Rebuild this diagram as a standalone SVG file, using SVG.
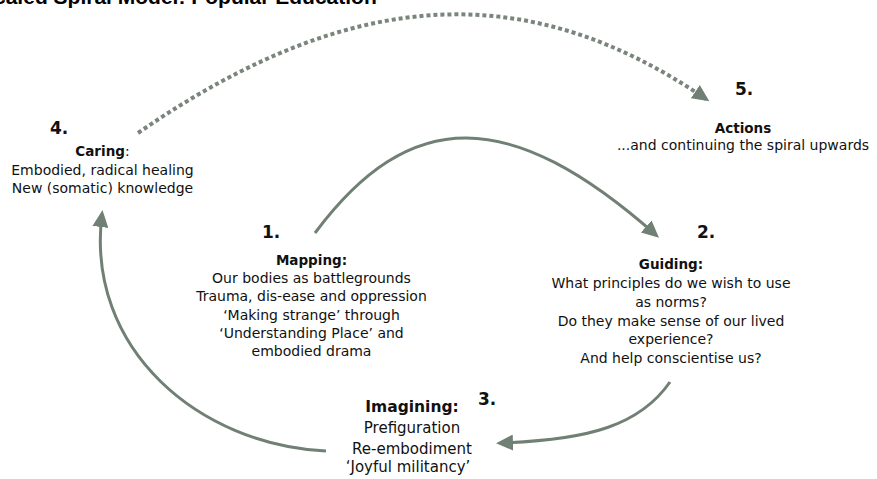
<svg xmlns="http://www.w3.org/2000/svg" width="877" height="479" viewBox="0 0 877 479">
<defs>
<style>
.t{font-family:"DejaVu Sans","Noto Sans",sans-serif;font-size:14px;fill:#111;text-anchor:middle}
.h{font-weight:bold;font-size:13.5px}
.n{font-family:"DejaVu Sans","Noto Sans",sans-serif;font-size:17px;font-weight:bold;fill:#111}
.c{fill:none;stroke:#718074;stroke-width:3}
.d{fill:none;stroke:#7a857c;stroke-width:4;stroke-dasharray:4 3}
.title{font-family:"Liberation Sans",Arial,sans-serif;font-size:21px;font-weight:bold;fill:#000}
</style>
<marker id="ah" markerUnits="userSpaceOnUse" markerWidth="18" markerHeight="16" refX="13" refY="8" orient="auto" viewBox="0 0 18 16">
<path d="M0,0 L17,8 L0,16 z" fill="#718074"/>
</marker>
</defs>
<rect width="877" height="479" fill="#fff"/>
<text class="title" x="-20" y="4">Scaled Spiral Model: Popular Education</text>
<g id="connectors">
<path class="d" d="M138,133 C358,-19 533,-19 706,99" marker-end="url(#ah)"/>
<path class="c" d="M315,233 C410,106 510,106 656,235" marker-end="url(#ah)"/>
<path class="c" d="M670,382 C640,425 590,440 500,443" marker-end="url(#ah)"/>
<path class="c" d="M326,451 C200,445 85,350 102,214" marker-end="url(#ah)"/>
</g>
<g id="node4">
<text class="n" x="50" y="134">4.</text>
<text class="t" x="102.5" y="156"><tspan class="h">Caring</tspan>:</text>
<text class="t" x="102.5" y="174.5">Embodied, radical healing</text>
<text class="t" x="102.5" y="192.5">New (somatic) knowledge</text>
</g>
<g id="node5">
<text class="n" x="735" y="95">5.</text>
<text class="t h" x="743" y="132.5">Actions</text>
<text class="t" x="743" y="150">...and continuing the spiral upwards</text>
</g>
<g id="node1">
<text class="n" x="262" y="238">1.</text>
<text class="t h" x="311.5" y="265">Mapping:</text>
<text class="t" x="311.5" y="283">Our bodies as battlegrounds</text>
<text class="t" x="311.5" y="301">Trauma, dis-ease and oppression</text>
<text class="t" x="311.5" y="319.5">‘Making strange’ through</text>
<text class="t" x="311.5" y="338">‘Understanding Place’ and</text>
<text class="t" x="311.5" y="356">embodied drama</text>
</g>
<g id="node2">
<text class="n" x="697" y="238">2.</text>
<text class="t h" x="671" y="269">Guiding:</text>
<text class="t" x="671" y="288">What principles do we wish to use</text>
<text class="t" x="671" y="306.5">as norms?</text>
<text class="t" x="671" y="325.5">Do they make sense of our lived</text>
<text class="t" x="671" y="343.5">experience?</text>
<text class="t" x="671" y="362.5">And help conscientise us?</text>
</g>
<g id="node3">
<text class="n" x="478" y="405">3.</text>
<text class="t h" x="412" y="412" style="font-size:15.5px">Imagining:</text>
<text class="t" x="412" y="433" style="font-size:15px">Prefiguration</text>
<text class="t" x="412" y="454" style="font-size:15px">Re-embodiment</text>
<text class="t" x="408" y="472" style="font-size:15px">‘Joyful militancy’</text>
</g>
</svg>
